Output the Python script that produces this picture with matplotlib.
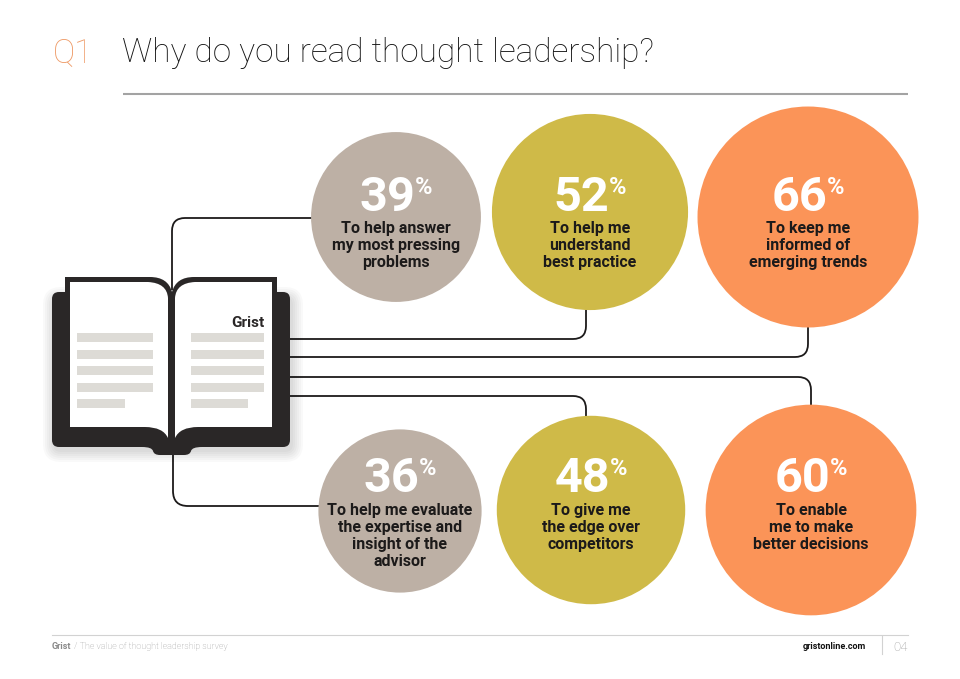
import numpy as np
import matplotlib
matplotlib.use("Agg")
import matplotlib.pyplot as plt
from matplotlib.patches import Circle, FancyBboxPatch, PathPatch, Rectangle
from matplotlib.path import Path

plt.rcParams["font.family"] = ["Roboto", "DejaVu Sans"]

# survey answers: top row first, then bottom row
PERCENTS = [39, 52, 66, 36, 48, 60]
REASONS = [
    ["To help answer", "my most pressing", "problems"],
    ["To help me", "understand", "best practice"],
    ["To keep me", "informed of", "emerging trends"],
    ["To help me evaluate", "the expertise and", "insight of the", "advisor"],
    ["To give me", "the edge over", "competitors"],
    ["To enable", "me to make", "better decisions"],
]
QUESTION_NO = "Q1"
QUESTION = "Why do you read thought leadership?"
BOOK_LABEL = "Grist"
FOOTER_BRAND = "Grist"
FOOTER_TEXT = "/ The value of thought leadership survey"
FOOTER_URL = "gristonline.com"
PAGE_NO = "04"

# layout in pixel space (y grows downwards)
CENTERS = [(396, 217), (590, 212), (808, 217), (400, 511), (591, 510), (811, 510)]
COLOURS = ["#bdb0a5", "#cfba48", "#fb9458", "#bdb0a5", "#cfba48", "#fb9458"]
RADIUS_SCALE = 13.6          # circle area follows the percentage
NUM_BASELINE = [211, 492]    # per row
LABEL_BASELINE = [233, 515]
LINE_STEP = 17

INK = "#1c1a1a"
COVER = "#2a2727"
BAR = "#dddbd6"

fig = plt.figure(figsize=(9.6, 6.79), dpi=100)
ax = fig.add_axes([0, 0, 1, 1])
ax.set_xlim(0, 960)
ax.set_ylim(679, 0)
ax.axis("off")
renderer = fig.canvas.get_renderer()


def text_width(t):
    return t.get_window_extent(renderer=renderer).width


def elbow(start, corner, end, r=13, lw=1.3):
    """Connector with one rounded corner."""
    p0, c, p1 = np.array(start, float), np.array(corner, float), np.array(end, float)
    a = c + (p0 - c) / np.linalg.norm(p0 - c) * r
    b = c + (p1 - c) / np.linalg.norm(p1 - c) * r
    verts = [p0, a, c, b, p1]
    codes = [Path.MOVETO, Path.LINETO, Path.CURVE3, Path.CURVE3, Path.LINETO]
    ax.add_patch(PathPatch(Path(verts, codes), fill=False, edgecolor=INK, lw=lw,
                           capstyle="butt", zorder=1))


def radius(i):
    return RADIUS_SCALE * np.sqrt(PERCENTS[i])


def edge_y(i, x, side):
    cx, cy = CENTERS[i]
    r = radius(i)
    return cy + side * np.sqrt(max(r * r - (x - cx) ** 2, 0)) - side * 1


# --- header ---
ax.text(53, 62, QUESTION_NO, fontsize=24, fontweight="light", color="#ee9a66",
        ha="left", va="baseline")
ax.text(122, 62, QUESTION, fontsize=24, fontweight="light", color="#111111",
        ha="left", va="baseline")
ax.plot([123, 908], [94, 94], color="#a3a3a3", lw=1.5, solid_capstyle="butt")

# --- connectors ---
cx0, cy0 = CENTERS[0]
elbow((172, 290), (172, cy0 + 1), (cx0 - radius(0) + 1, cy0 + 1))
cx3, cy3 = CENTERS[3]
elbow((173, 445), (173, 506), (cx3 - np.sqrt(radius(3) ** 2 - 25) + 1, 506), r=15)
for y, x, idx, side in [(339, 586, 1, 1), (357, 808, 2, 1), (377, 811, 5, -1), (396, 586, 4, -1)]:
    elbow((285, y), (x, y), (x, edge_y(idx, x, side)))

# --- circles ---
for i, pct in enumerate(PERCENTS):
    cx, cy = CENTERS[i]
    ax.add_patch(Circle((cx, cy), radius(i), facecolor=COLOURS[i], edgecolor="none", zorder=2))
    row = i // 3
    nb = NUM_BASELINE[row]
    tn = ax.text(0, nb, str(pct), fontsize=35, fontweight="bold", color="white",
                 ha="left", va="baseline", zorder=3)
    tp = ax.text(0, nb - 17, "%", fontsize=17, fontweight="bold", color="white",
                 ha="left", va="baseline", zorder=3)
    w1, w2 = text_width(tn), text_width(tp)
    left = cx - (w1 + w2) / 2
    tn.set_x(left)
    tp.set_x(left + w1)
    for k, line in enumerate(REASONS[i]):
        ax.text(cx, LABEL_BASELINE[row] + k * LINE_STEP, line, fontsize=11.5,
                fontweight="bold", color=INK, ha="center", va="baseline", zorder=3)

# --- book ---
for k in range(6):
    g = 1 + k * 2
    ax.add_patch(FancyBboxPatch((52 - g + 2, 292 - g + 6), 238 + 2 * g, 153 + 2 * g,
                                boxstyle="round,pad=0,rounding_size=%.1f" % (7 + g),
                                facecolor="#000000", edgecolor="none", alpha=0.022, zorder=4))
ax.add_patch(FancyBboxPatch((52, 292), 238, 155, boxstyle="round,pad=0,rounding_size=7",
                            facecolor=COVER, edgecolor="none", zorder=5))

M, L, C, Z = Path.MOVETO, Path.LINETO, Path.CURVE3, Path.CLOSEPOLY
bump = Path(
    [(142, 440), (142, 447), (152, 447), (153, 451), (154, 455), (160, 455), (184, 455),
     (190, 455), (191, 451), (192, 447), (202, 447), (202, 440), (142, 440)],
    [M, L, C, C, C, C, L, C, C, C, C, L, Z])
ax.add_patch(PathPatch(bump, facecolor=COVER, edgecolor="none", zorder=5))

block = Path(
    [(65, 440), (65, 277), (150, 277), (168, 277), (172, 292), (176, 277), (194, 277),
     (277, 277), (277, 440), (65, 440)],
    [M, L, L, C, C, C, C, L, L, Z])
ax.add_patch(PathPatch(block, facecolor=COVER, edgecolor="none", zorder=5))

left_page = Path(
    [(70, 282), (148, 282), (167, 283), (168, 298), (168, 438), (163, 427), (145, 427),
     (70, 427), (70, 282)],
    [M, L, C, C, L, C, C, L, Z])
right_page = Path(
    [(175, 298), (176, 283), (195, 282), (272, 282), (272, 427), (198, 427), (180, 427),
     (175, 438), (175, 298)],
    [M, C, C, L, L, L, C, C, Z])
for p in (left_page, right_page):
    ax.add_patch(PathPatch(p, facecolor="white", edgecolor="none", zorder=6))

for k in range(5):
    y = 333 + k * 16.6
    wl, wr = (48, 57) if k == 4 else (76, 73)
    ax.add_patch(Rectangle((77, y), wl, 9, facecolor=BAR, edgecolor="none", zorder=7))
    ax.add_patch(Rectangle((191, y), wr, 9, facecolor=BAR, edgecolor="none", zorder=7))
ax.text(264, 327, BOOK_LABEL, fontsize=11, fontweight="bold", color=COVER,
        ha="right", va="baseline", zorder=7)

# --- footer ---
ax.plot([52, 908], [635, 635], color="#d2d2d2", lw=0.8)
ax.plot([882, 882], [636, 654], color="#d2d2d2", lw=0.8)
tb = ax.text(52, 649, FOOTER_BRAND, fontsize=6.5, fontweight="bold", color="#8a8a8a",
             ha="left", va="baseline")
ax.text(52 + text_width(tb) + 3, 649, FOOTER_TEXT, fontsize=6.5, fontweight="light",
        color="#9a9a9a", ha="left", va="baseline")
ax.text(866, 649, FOOTER_URL, fontsize=6.5, fontweight="bold", color="#111111",
        ha="right", va="baseline")
ax.text(893, 651, PAGE_NO, fontsize=9.5, fontweight="light", color="#9a9a9a",
        ha="left", va="baseline")

fig.savefig("out.png", dpi=100, facecolor="white")
